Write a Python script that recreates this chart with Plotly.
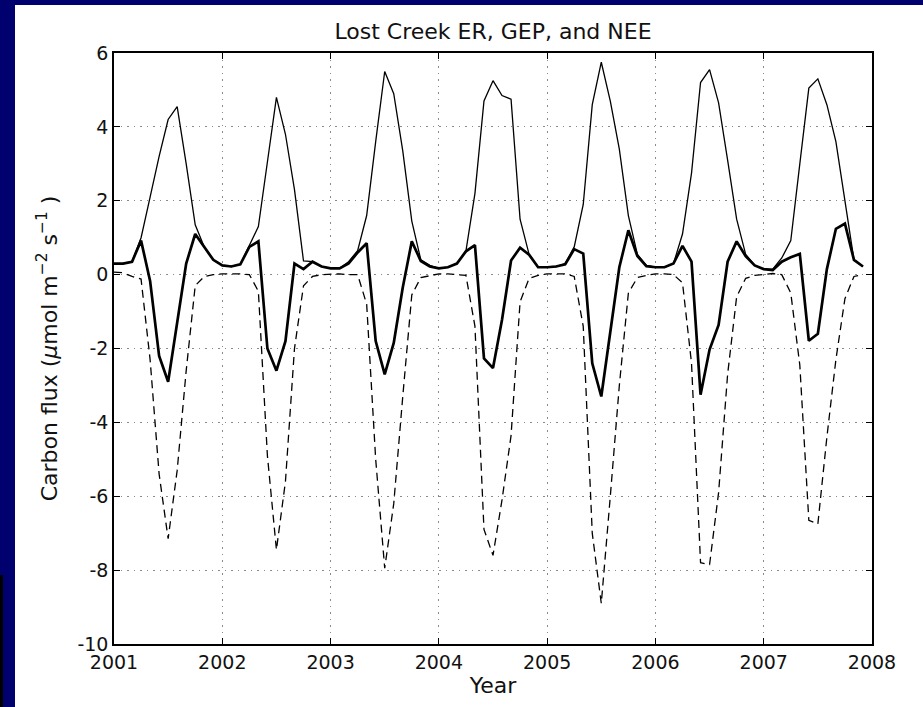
import plotly.graph_objects as go

# ---- data (monthly, Jan 2001 .. Dec 2007) ----
years = [2001, 2002, 2003, 2004, 2005, 2006, 2007]
months = list(range(12))

er = [
    0.30, 0.30, 0.35, 1.00, 2.10, 3.20, 4.20, 4.55, 3.00, 1.35, 0.75, 0.40,
    0.25, 0.22, 0.28, 0.80, 1.30, 3.05, 4.80, 3.80, 2.30, 0.37, 0.35, 0.22,
    0.17, 0.17, 0.35, 0.65, 1.60, 3.60, 5.50, 4.90, 3.35, 1.45, 0.40, 0.25,
    0.17, 0.20, 0.30, 0.64, 2.20, 4.70, 5.25, 4.85, 4.75, 1.50, 0.55, 0.20,
    0.20, 0.22, 0.30, 0.75, 1.90, 4.60, 5.75, 4.70, 3.40, 1.60, 0.55, 0.25,
    0.20, 0.20, 0.30, 1.10, 2.75, 5.20, 5.55, 4.65, 3.10, 1.50, 0.55, 0.25,
    0.15, 0.15, 0.45, 0.92, 3.00, 5.05, 5.30, 4.60, 3.60, 2.00, 0.40, 0.22,
]
nee = [
    0.30, 0.30, 0.35, 0.92, -0.17, -2.20, -2.90, -1.30, 0.30, 1.10, 0.75, 0.40,
    0.25, 0.22, 0.28, 0.75, 0.90, -2.00, -2.60, -1.80, 0.30, 0.15, 0.35, 0.22,
    0.17, 0.17, 0.30, 0.60, 0.85, -1.80, -2.70, -1.85, -0.35, 0.90, 0.37, 0.22,
    0.17, 0.20, 0.30, 0.63, 0.80, -2.27, -2.53, -1.22, 0.38, 0.73, 0.54, 0.20,
    0.20, 0.22, 0.28, 0.69, 0.57, -2.40, -3.30, -1.60, 0.20, 1.20, 0.50, 0.23,
    0.20, 0.20, 0.30, 0.78, 0.35, -3.25, -2.03, -1.36, 0.35, 0.90, 0.50, 0.25,
    0.15, 0.12, 0.35, 0.47, 0.56, -1.79, -1.60, 0.15, 1.24, 1.38, 0.40, 0.22,
]
gep = [
    0.07, 0.05, -0.05, -0.12, -2.30, -5.40, -7.15, -5.30, -2.60, -0.30, -0.05, 0.00,
    0.02, 0.03, 0.02, 0.00, -0.45, -4.90, -7.45, -5.60, -2.00, -0.30, -0.05, 0.00,
    0.02, 0.02, 0.00, 0.00, -0.80, -5.00, -7.95, -6.20, -3.30, -0.55, -0.08, -0.02,
    0.02, 0.02, 0.00, -0.02, -1.40, -6.90, -7.60, -6.10, -4.36, -0.74, -0.10, -0.02,
    0.02, 0.02, 0.02, -0.05, -1.40, -7.00, -8.90, -6.00, -3.00, -0.50, -0.08, -0.02,
    0.02, 0.02, 0.00, -0.22, -2.40, -7.80, -7.85, -5.90, -2.70, -0.60, -0.10, -0.02,
    0.00, 0.03, 0.00, -0.50, -2.45, -6.65, -6.75, -4.40, -2.30, -0.65, -0.05, 0.00,
]

x_ticks = [2001, 2002, 2003, 2004, 2005, 2006, 2007, 2008]
y_ticks = [6, 4, 2, 0, -2, -4, -6, -8, -10]
y_tick_text = ["6", "4", "2", "0", "-2", "-4", "-6", "-8", "-10"]

t = [y + m / 12 for y in years for m in months]

FONT = "DejaVu Sans"
NAVY = "#00006e"
W, H = 923, 707
L, R, T, B = 114, 51, 53, 63
pw, ph = W - L - R, H - T - B

fig = go.Figure()
fig.add_trace(go.Scatter(x=t, y=gep, mode="lines", name="GEP",
                         line=dict(color="black", width=1.3, dash="8px,5px")))
fig.add_trace(go.Scatter(x=t, y=er, mode="lines", name="ER",
                         line=dict(color="black", width=1.3)))
fig.add_trace(go.Scatter(x=t, y=nee, mode="lines", name="NEE",
                         line=dict(color="black", width=2.7)))

def px_x(p):
    return (p - L) / pw

def px_y(p):
    return (H - B - p) / ph

# navy slide background strips (left and top)
fig.add_shape(type="rect", xref="paper", yref="paper", layer="below",
              x0=px_x(-5), x1=px_x(15), y0=px_y(H + 5), y1=px_y(-5),
              fillcolor=NAVY, line=dict(width=0))
fig.add_shape(type="rect", xref="paper", yref="paper", layer="below",
              x0=px_x(-5), x1=px_x(W + 5), y0=px_y(5), y1=px_y(-5),
              fillcolor=NAVY, line=dict(width=0))
# small black strip at lower-left edge
fig.add_shape(type="rect", xref="paper", yref="paper", layer="below",
              x0=px_x(-5), x1=px_x(3), y0=px_y(H + 5), y1=px_y(575),
              fillcolor="black", line=dict(width=0))

axis_common = dict(
    showline=True, linecolor="black", linewidth=1.5, mirror="ticks",
    ticks="inside", ticklen=6, tickwidth=1, tickcolor="black",
    showgrid=True, gridcolor="#8a8a8a", griddash="1.5px,5px", gridwidth=1,
    zeroline=False, tickfont=dict(family=FONT, size=19, color="#111"),
)

fig.update_xaxes(range=[2001, 2008], tickvals=x_ticks,
                 ticktext=[str(v) for v in x_ticks],
                 title=dict(text="Year", font=dict(family=FONT, size=22, color="#111"),
                            standoff=6),
                 **axis_common)
fig.update_yaxes(range=[-10, 6], tickvals=y_ticks, ticktext=y_tick_text,
                 title=dict(text="Carbon flux (<i>μ</i>mol m<sup>−2</sup> s<sup>−1</sup> )",
                            font=dict(family=FONT, size=22, color="#111"), standoff=14),
                 **axis_common)

fig.update_layout(
    width=W, height=H,
    margin=dict(l=L, r=R, t=T, b=B, pad=0),
    paper_bgcolor="white", plot_bgcolor="white",
    showlegend=False,
    title=dict(text="Lost Creek ER, GEP, and NEE", x=(L + pw / 2) / W, xanchor="center",
               y=1 - 31 / H, yanchor="middle", yref="container",
               font=dict(family=FONT, size=22, color="#111")),
)

fig.write_html("out.html", config={"displayModeBar": False},
               post_script="document.body.style.margin='0';document.body.style.overflow='hidden';")
